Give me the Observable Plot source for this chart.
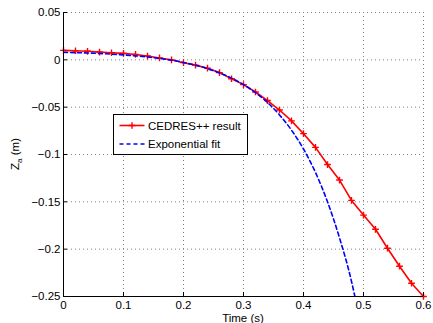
<!DOCTYPE html>
<html>
<head>
<meta charset="utf-8">
<script src="https://cdn.jsdelivr.net/npm/d3@7"></script>
<script src="https://cdn.jsdelivr.net/npm/@observablehq/plot@0.6"></script>
<style>
  html, body { margin: 0; padding: 0; background: white; }
</style>
</head>
<body>
<div id="chart"></div>
<script>
// CEDRES++ result (red line with + markers)
const timeCedres = [0, 0.02, 0.04, 0.06, 0.08, 0.10, 0.12, 0.14, 0.16, 0.18, 0.20,
  0.22, 0.24, 0.26, 0.28, 0.30, 0.32, 0.34, 0.36, 0.38, 0.40,
  0.42, 0.44, 0.46, 0.48, 0.50, 0.52, 0.54, 0.56, 0.58, 0.60];
const zCedres = [0.0100, 0.0096, 0.0090, 0.0082, 0.0075, 0.0068, 0.0057, 0.0040, 0.0020, 0.0000, -0.0030,
  -0.0056, -0.0088, -0.0135, -0.0200, -0.0262, -0.0340, -0.0430, -0.0530, -0.0645, -0.0780,
  -0.0925, -0.1106, -0.1270, -0.1485, -0.1640, -0.1790, -0.1990, -0.2180, -0.2360, -0.2500];

// Exponential fit (blue dashed line)
const timeFit = [0, 0.02, 0.04, 0.06, 0.08, 0.10, 0.12, 0.14, 0.16, 0.18, 0.20,
  0.22, 0.24, 0.26, 0.28, 0.30, 0.32, 0.34, 0.36, 0.38, 0.40,
  0.42, 0.44, 0.46, 0.48, 0.486];
const zFit = [0.0080, 0.0076, 0.0072, 0.0067, 0.0060, 0.0052, 0.0042, 0.0030, 0.0014, -0.0004, -0.0028,
  -0.0057, -0.0093, -0.0138, -0.0193, -0.0262, -0.0347, -0.0451, -0.0582, -0.0743, -0.0942,
  -0.1190, -0.1500, -0.1880, -0.2340, -0.2510];

// Ticks
const xTicks = [0, 0.1, 0.2, 0.3, 0.4, 0.5, 0.6];
const xTickLabels = ["0", "0.1", "0.2", "0.3", "0.4", "0.5", "0.6"];
const yTicks = [0.05, 0, -0.05, -0.1, -0.15, -0.2, -0.25];
const yTickLabels = ["0.05", "0", "\u22120.05", "\u22120.1", "\u22120.15", "\u22120.2", "\u22120.25"];

const seriesNames = ["CEDRES++ result", "Exponential fit"];
const xLabel = "Time (s)";

const cedres = timeCedres.map((t, i) => ({t, z: zCedres[i]}));
const fit = timeFit.map((t, i) => ({t, z: zFit[i]}));

const W = 433, H = 323;
const mL = 63, mR = 10, mT = 12, mB = 27;
const plotW = W - mL - mR, plotH = H - mT - mB;
const FONT = "'Liberation Sans', Arial, Helvetica, sans-serif";
const FS = 11.5;
const RED = "#ff0000", BLUE = "#0000ff";
const PLUS_R = 2.3;

const chart = Plot.plot({
  width: W,
  height: H,
  marginLeft: mL,
  marginRight: mR,
  marginTop: mT,
  marginBottom: mB,
  style: {fontFamily: FONT, fontSize: FS + "px", background: "white", color: "black", overflow: "visible"},
  x: {domain: [0, 0.6]},
  y: {domain: [-0.25, 0.05]},
  marks: [
    Plot.gridX(xTicks, {stroke: "#808080", strokeOpacity: 1, strokeDasharray: "1,3"}),
    Plot.gridY(yTicks, {stroke: "#808080", strokeOpacity: 1, strokeDasharray: "1,3"}),
    Plot.line(cedres, {x: "t", y: "z", stroke: RED, strokeWidth: 1.6}),
    Plot.dot(cedres, {x: "t", y: "z", symbol: "plus", r: PLUS_R, stroke: RED, strokeWidth: 1.4}),
    Plot.line(fit, {x: "t", y: "z", stroke: BLUE, strokeWidth: 1.6, strokeDasharray: "4,3", curve: "monotone-x", clip: true}),
    Plot.tickX(xTicks, {x: d => d, stroke: "black", insetTop: plotH - 4}),
    Plot.tickY(yTicks, {y: d => d, stroke: "black", insetRight: plotW - 4}),
    Plot.ruleX([0], {stroke: "black"}),
    Plot.ruleY([-0.25], {stroke: "black"}),
    Plot.axisX(xTicks, {tickSize: 0, tickPadding: 4.5, label: null, tickFormat: d => xTickLabels[xTicks.indexOf(d)]}),
    Plot.axisY(yTicks, {tickSize: 0, tickPadding: 3, label: null, tickFormat: d => yTickLabels[yTicks.indexOf(d)]})
  ]
});

document.getElementById("chart").appendChild(chart);

const svg = d3.select(chart);
const x = chart.scale("x"), y = chart.scale("y");

// X axis label
svg.append("text")
  .attr("x", (x.apply(0) + x.apply(0.6)) / 2)
  .attr("y", 321.5)
  .attr("text-anchor", "middle")
  .attr("font-family", FONT)
  .attr("font-size", FS)
  .attr("fill", "black")
  .text(xLabel);

// Y axis label  Z_a (m)
const yl = svg.append("text")
  .attr("transform", `translate(19,${(y.apply(0.05) + y.apply(-0.25)) / 2}) rotate(-90)`)
  .attr("text-anchor", "middle")
  .attr("font-family", FONT)
  .attr("font-size", FS)
  .attr("fill", "black");
yl.append("tspan").text("Z");
yl.append("tspan").attr("font-size", 8).attr("dy", 3).text("a");
yl.append("tspan").attr("dy", -3).text(" (m)");

// Legend
const lg = svg.append("g").attr("transform", "translate(113.5,114.5)");
lg.append("rect").attr("width", 134).attr("height", 40)
  .attr("fill", "white").attr("stroke", "black").attr("stroke-width", 1);
const rows = [
  {name: seriesNames[0], color: RED, dash: null, marker: true, yy: 11},
  {name: seriesNames[1], color: BLUE, dash: "4,3", marker: false, yy: 29.5}
];
rows.forEach(r => {
  const ln = lg.append("line").attr("x1", 6).attr("x2", 31).attr("y1", r.yy).attr("y2", r.yy)
    .attr("stroke", r.color).attr("stroke-width", 1.6);
  if (r.dash) ln.attr("stroke-dasharray", r.dash);
  if (r.marker) {
    lg.append("path").attr("d", d3.symbol(d3.symbolPlus, Math.PI * PLUS_R * PLUS_R)())
      .attr("transform", `translate(18.5,${r.yy})`)
      .attr("stroke", r.color).attr("stroke-width", 1.4).attr("fill", "none");
  }
  lg.append("text").attr("x", 34.5).attr("y", r.yy).attr("dy", "0.35em")
    .attr("text-anchor", "start")
    .attr("font-family", FONT).attr("font-size", FS).attr("fill", "black")
    .text(r.name);
});
</script>
</body>
</html>
